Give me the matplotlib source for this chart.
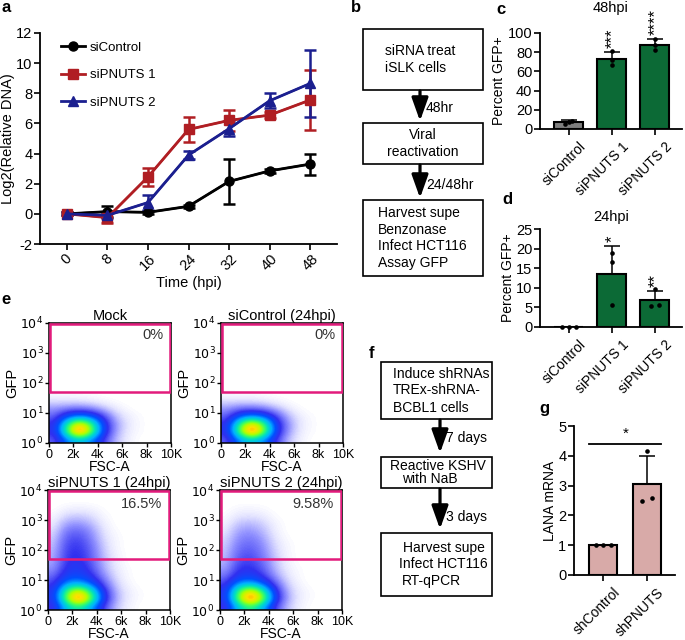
import matplotlib
matplotlib.use('Agg')
import matplotlib.pyplot as plt
import numpy as np
from matplotlib.colors import LinearSegmentedColormap
from matplotlib.patches import Rectangle
from matplotlib.transforms import ScaledTranslation

plt.rcParams['font.family'] = ['Liberation Sans', 'DejaVu Sans']
plt.rcParams['font.size'] = 9.5
plt.rcParams['axes.unicode_minus'] = False
plt.rcParams['axes.linewidth'] = 1.3
plt.rcParams['xtick.major.width'] = 1.2
plt.rcParams['ytick.major.width'] = 1.2
plt.rcParams['xtick.major.size'] = 4
plt.rcParams['ytick.major.size'] = 4

W, H = 685, 640

# ---- panel a: viral DNA over time
hpi = [0, 8, 16, 24, 32, 40, 48]
si_control = [0, 0.15, 0.1, 0.5, 2.15, 2.85, 3.3]
si_control_err = [0.1, 0.35, 0.1, 0.1, 1.5, 0.15, 0.7]
si_pnuts1 = [0, -0.25, 2.45, 5.6, 6.2, 6.55, 7.55]
si_pnuts1_err = [0.1, 0.35, 0.6, 0.85, 0.7, 0.2, 2.0]
si_pnuts2 = [0, -0.1, 0.75, 3.9, 5.65, 7.5, 8.65]
si_pnuts2_err = [0.1, 0.15, 0.5, 0.25, 0.5, 0.5, 2.2]

# ---- panels c, d: percent GFP+
si_groups = ['siControl', 'siPNUTS 1', 'siPNUTS 2']
c_mean = [7.0, 72.5, 88.0]
c_err = [2.3, 7.5, 6.0]
c_points = [[5.2, 7.0, 8.8], [66.9, 72.1, 80.8], [82.6, 87.4, 94.0]]
c_stars = ['', '***', '****']
d_mean = [0.05, 13.6, 6.85]
d_err = [0, 7.1, 2.45]
d_points = [[0.1, 0.1, 0.1], [5.7, 16.5, 19.0], [5.4, 5.6, 9.75]]
d_stars = ['', '*', '**']

# ---- panel g: LANA mRNA
sh_groups = ['shControl', 'shPNUTS']
g_mean = [1.0, 3.07]
g_err = [0, 0.92]
g_points = [[1.0, 1.0, 1.0], [2.5, 2.6, 4.15]]

# ---- panel e: flow density (rows = 0.25 decade GFP bins from 10^0, cols = 1k FSC-A bins)
mock_density = [
    [1.5, 3.5, 4.5, 3.5, 1.8, 0.6, 0.15, 0, 0, 0],
    [2.0, 6.0, 10.0, 6.5, 2.5, 0.8, 0.2, 0.05, 0, 0],
    [2.0, 5.5, 8.5, 6.0, 2.5, 0.9, 0.25, 0.05, 0, 0],
    [1.5, 3.0, 3.8, 3.2, 1.8, 0.6, 0.2, 0.05, 0, 0],
    [1.0, 1.3, 1.4, 1.2, 0.7, 0.25, 0.05, 0, 0, 0],
    [0.4, 0.35, 0.35, 0.25, 0.12, 0.03, 0, 0, 0, 0],
    [0.08, 0.05, 0.04, 0.02, 0, 0, 0, 0, 0, 0],
]
sicontrol_density = [
    [1.5, 3.6, 4.6, 3.6, 1.9, 0.6, 0.15, 0, 0, 0],
    [2.0, 6.2, 10.0, 6.8, 2.6, 0.9, 0.2, 0.05, 0, 0],
    [2.0, 5.6, 8.6, 6.2, 2.6, 1.0, 0.25, 0.05, 0, 0],
    [1.5, 3.1, 3.9, 3.3, 1.9, 0.7, 0.2, 0.05, 0, 0],
    [1.0, 1.4, 1.5, 1.3, 0.8, 0.3, 0.05, 0, 0, 0],
    [0.4, 0.4, 0.4, 0.3, 0.15, 0.03, 0, 0, 0, 0],
    [0.08, 0.06, 0.05, 0.03, 0, 0, 0, 0, 0, 0],
]
pnuts1_density = [
    [1.8, 4.5, 5.5, 4.0, 1.8, 0.6, 0.15, 0, 0, 0],
    [2.2, 6.5, 10.0, 6.5, 2.5, 0.8, 0.2, 0.05, 0, 0],
    [2.2, 6.0, 8.0, 5.5, 2.3, 0.7, 0.2, 0.05, 0, 0],
    [1.8, 3.8, 4.2, 3.2, 1.6, 0.5, 0.1, 0, 0, 0],
    [1.4, 2.6, 2.8, 2.2, 1.1, 0.35, 0.05, 0, 0, 0],
    [1.0, 2.2, 2.4, 1.8, 0.8, 0.25, 0.05, 0, 0, 0],
    [0.8, 2.0, 2.2, 1.6, 0.7, 0.2, 0, 0, 0, 0],
    [0.7, 1.9, 2.1, 1.5, 0.6, 0.15, 0, 0, 0, 0],
    [0.6, 1.8, 2.0, 1.4, 0.5, 0.1, 0, 0, 0, 0],
    [0.5, 1.6, 1.8, 1.2, 0.4, 0.1, 0, 0, 0, 0],
    [0.35, 1.3, 1.5, 1.0, 0.3, 0.05, 0, 0, 0, 0],
    [0.2, 0.9, 1.0, 0.7, 0.2, 0, 0, 0, 0, 0],
    [0.1, 0.45, 0.55, 0.4, 0.1, 0, 0, 0, 0, 0],
    [0, 0.15, 0.2, 0.15, 0.03, 0, 0, 0, 0, 0],
]
pnuts2_density = [
    [1.8, 4.5, 5.8, 4.2, 1.8, 0.6, 0.15, 0, 0, 0],
    [2.2, 6.5, 10.0, 7.0, 2.6, 0.8, 0.2, 0.05, 0, 0],
    [2.2, 6.0, 8.3, 5.8, 2.4, 0.7, 0.2, 0.05, 0, 0],
    [1.8, 3.7, 4.2, 3.2, 1.6, 0.5, 0.1, 0, 0, 0],
    [1.3, 2.4, 2.6, 2.0, 1.0, 0.3, 0.05, 0, 0, 0],
    [0.9, 2.0, 2.1, 1.6, 0.7, 0.2, 0.05, 0, 0, 0],
    [0.7, 1.7, 1.9, 1.4, 0.6, 0.15, 0, 0, 0, 0],
    [0.6, 1.5, 1.7, 1.2, 0.5, 0.1, 0, 0, 0, 0],
    [0.5, 1.3, 1.5, 1.1, 0.4, 0.1, 0, 0, 0, 0],
    [0.4, 1.1, 1.3, 0.9, 0.3, 0.05, 0, 0, 0, 0],
    [0.25, 0.9, 1.0, 0.7, 0.2, 0, 0, 0, 0, 0],
    [0.15, 0.6, 0.7, 0.5, 0.15, 0, 0, 0, 0, 0],
    [0.05, 0.3, 0.35, 0.25, 0.05, 0, 0, 0, 0, 0],
    [0, 0.1, 0.12, 0.08, 0, 0, 0, 0, 0, 0],
]
flow_titles = ['Mock', 'siControl (24hpi)', 'siPNUTS 1 (24hpi)', 'siPNUTS 2 (24hpi)']
flow_percent = ['0%', '0%', '16.5%', '9.58%']
flow_densities = [mock_density, sicontrol_density, pnuts1_density, pnuts2_density]
gate_low = 1.7
fsc_ticks = [0, 2000, 4000, 6000, 8000, 10000]
fsc_labels = ['0', '2k', '4k', '6k', '8k', '10K']

# ---- flowcharts b, f
b_steps = [['siRNA treat', 'iSLK cells'], ['Viral', 'reactivation'],
           ['Harvest supe', 'Benzonase', 'Infect HCT116', 'Assay GFP']]
b_arrows = ['48hr', '24/48hr']
f_steps = [['Induce shRNAs', 'TREx-shRNA-', 'BCBL1 cells'], ['Reactive KSHV', 'with NaB'],
           ['Harvest supe', 'Infect HCT116', 'RT-qPCR']]
f_arrows = ['7 days', '3 days']


def px_axes(fig, left, top, right, bottom):
    return fig.add_axes([left / W, 1 - bottom / H, (right - left) / W, (bottom - top) / H])


fig = plt.figure(figsize=(W / 100, H / 100), dpi=100)
over = fig.add_axes([0, 0, 1, 1])
over.set_xlim(0, W)
over.set_ylim(H, 0)
over.axis('off')

# panel letters
for letter, (x, y) in zip('abcdefg', [(1, 8), (351, 8), (496, 9), (502, 200), (1, 300), (369, 353), (539, 408)]):
    over.text(x, y, letter, fontsize=12, fontweight='bold', va='center', ha='left')

# ---------------- panel a
ax = px_axes(fig, 40, 33, 337, 244)
series = [(si_control, si_control_err, 'black', 'o', 'siControl'),
          (si_pnuts1, si_pnuts1_err, '#b01e23', 's', 'siPNUTS 1'),
          (si_pnuts2, si_pnuts2_err, '#1b1f8f', '^', 'siPNUTS 2')]
handles = []
for vals, errs, col, mk, lab in series:
    ax.errorbar(hpi, vals, yerr=errs, color=col, ecolor=col, elinewidth=1.8,
                capsize=4.3, capthick=1.8, zorder=2)
    h, = ax.plot(hpi, vals, color=col, lw=2, marker=mk, ms=6.5, label=lab, zorder=3)
    handles.append(h)
ax.set_xlim(-5.3, 53.3)
ax.set_ylim(-2, 12)
ax.set_yticks(np.arange(-2, 13, 2))
ax.set_xticks(hpi)
ax.set_xticklabels([str(h) for h in hpi], rotation=45, ha='center')
ax.tick_params(labelsize=10.5, pad=1.5)
ax.spines[['top', 'right']].set_visible(False)
ax.set_xlabel('Time (hpi)', fontsize=10.5, labelpad=2)
ax.set_ylabel('Log2(Relative DNA)', fontsize=10.5, labelpad=1)
ax.legend(handles=handles, loc='upper left', bbox_to_anchor=(0.05, 0.99), frameon=False,
          handlelength=1.8, handletextpad=0.35, labelspacing=1.15, borderpad=0, fontsize=9.5)


# ---------------- bar panels
def bar_panel(ax, groups, means, errs, points, colors, offsets, ymax, ystep, ylabel, width):
    x = np.arange(len(groups))
    ax.bar(x, means, width=width, color=colors, edgecolor='black', linewidth=1.5, zorder=1)
    for i in range(len(groups)):
        if errs[i] > 0:
            ax.errorbar(x[i], means[i], yerr=[[0], [errs[i]]], fmt='none', ecolor='black',
                        elinewidth=1.1, capsize=6, capthick=1.1, zorder=2)
        ax.scatter(x[i] + np.array(offsets[i]), points[i], s=11, color='black', zorder=3,
                   clip_on=False, linewidths=0)
    ax.set_ylim(0, ymax)
    ax.set_yticks(np.arange(0, ymax + 0.01, ystep))
    ax.set_xlim(-0.67, len(groups) - 1 + 0.63)
    ax.set_xticks(x)
    ax.set_xticklabels(groups, rotation=45, ha='right', rotation_mode='anchor', fontsize=10)
    for lab in ax.get_xticklabels():
        lab.set_transform(lab.get_transform() + ScaledTranslation(7 / 72, 0, fig.dpi_scale_trans))
    ax.spines[['top', 'right']].set_visible(False)
    ax.set_ylabel(ylabel, fontsize=10, labelpad=1)
    ax.tick_params(axis='y', labelsize=10.5, pad=1.5)
    return x


green = '#0c6a36'
ax = px_axes(fig, 540, 33, 682, 129)
x = bar_panel(ax, si_groups, c_mean, c_err, c_points, ['#7f7f7f', green, green],
              [[-0.08, 0.0, 0.08], [0, 0, 0], [0, 0, 0]], 100, 20, 'Percent GFP+', 0.67)
for i, s in enumerate(c_stars):
    if s:
        ax.text(x[i], c_mean[i] + c_err[i] + 4, s, rotation=90, ha='center', va='bottom',
                fontsize=12, clip_on=False)
ax.set_title('48hpi', fontsize=10.5, pad=15)

ax = px_axes(fig, 540, 229, 682, 327)
x = bar_panel(ax, si_groups, d_mean, d_err, d_points, ['#7f7f7f', green, green],
              [[-0.17, 0, 0.17], [0, 0, 0], [-0.1, 0.1, 0]], 25, 5, 'Percent GFP+', 0.67)
for i, s in enumerate(d_stars):
    if s:
        ax.text(x[i], d_mean[i] + d_err[i] + 1.0, s, rotation=90, ha='center', va='bottom',
                fontsize=12, clip_on=False)
ax.set_title('24hpi', fontsize=10.5, pad=6)

ax = px_axes(fig, 574, 426, 675, 575)
x = bar_panel(ax, sh_groups, g_mean, g_err, g_points, ['#d8aaa8', '#d8aaa8'],
              [[-0.18, 0, 0.18], [-0.12, 0.1, 0]], 5, 1, 'LANA mRNA', 0.64)
ax.plot([-0.32, 1.32], [4.4, 4.4], color='black', lw=1.3, clip_on=False)
ax.text(0.5, 4.5, '*', ha='center', va='bottom', fontsize=11)

# ---------------- panel e: flow plots
cmap = LinearSegmentedColormap.from_list('flow', [
    (0.0, 'white'), (0.03, '#e4e4ff'), (0.1, '#9090ff'), (0.2, '#3030f0'),
    (0.3, '#0050ff'), (0.4, '#00b0ff'), (0.5, '#00e0c0'), (0.6, '#40ff60'),
    (0.7, '#b0ff00'), (0.8, '#ffe000'), (0.9, '#ff7000'), (1.0, '#ff0000')])
cmap.set_under('white')
pink = '#e21b7c'
flow_boxes = [(49, 323, 171, 443), (221, 323, 343, 443), (48, 490, 170, 610), (220, 490, 342, 610)]
for k, (l, t, r, b) in enumerate(flow_boxes):
    ax = px_axes(fig, l, t, r, b)
    dens = np.zeros((16, 10))
    rows = np.array(flow_densities[k], dtype=float)
    dens[:rows.shape[0]] = rows
    ax.imshow(dens, origin='lower', extent=[0, 10000, 0, 4], aspect='auto', cmap=cmap,
              vmin=0.001, vmax=10, interpolation='bicubic')
    ax.add_patch(Rectangle((70, gate_low), 9840, 3.97 - gate_low, fill=False,
                           edgecolor=pink, lw=1.8, zorder=3))
    ax.set_xlim(0, 10000)
    ax.set_ylim(0, 4)
    ax.set_xticks(fsc_ticks)
    ax.set_xticklabels(fsc_labels, fontsize=9)
    ax.set_yticks(range(5))
    ax.set_yticklabels(['$10^{%d}$' % n for n in range(5)], fontsize=9)
    ax.tick_params(length=3, width=1, pad=1)
    for sp in ax.spines.values():
        sp.set_linewidth(1.1)
    ax.set_xlabel('FSC-A', fontsize=10, labelpad=-0.5)
    ax.set_ylabel('GFP', fontsize=10.5, labelpad=0.5)
    ax.set_title(flow_titles[k], fontsize=10.5, pad=1.5)
    ax.text(0.935, 0.9 if k < 2 else 0.885, flow_percent[k], transform=ax.transAxes,
            ha='right', va='center', fontsize=10.5, color='#333333', zorder=4)


# ---------------- flowcharts
def flowchart(steps, arrows, box_x, boxes, line_gap, line_x, arrow_x, arrow_spans, arrow_label_y):
    for i, lines in enumerate(steps):
        top, bot = boxes[i]
        over.add_patch(Rectangle((box_x[0], top), box_x[1] - box_x[0], bot - top, fill=False,
                                 edgecolor='black', lw=1.2))
        gap = line_gap[i]
        mid = (top + bot) / 2
        for j, txt in enumerate(lines):
            y = mid + (j - (len(lines) - 1) / 2) * gap
            lx = line_x[i][j]
            if lx is None:
                over.text((box_x[0] + box_x[1]) / 2, y, txt, ha='center', va='center', fontsize=10)
            else:
                over.text(lx, y, txt, ha='left', va='center', fontsize=10)
    for i, lab in enumerate(arrows):
        y0, y1 = arrow_spans[i]
        over.annotate('', xy=(arrow_x, y1), xytext=(arrow_x, y0),
                      arrowprops=dict(arrowstyle='-|>,head_length=1.4,head_width=0.5',
                                      lw=2.3, color='black', shrinkA=0, shrinkB=0,
                                      mutation_scale=10))
        over.text(arrow_x + 6, arrow_label_y[i], lab, ha='left', va='center', fontsize=10)


flowchart(b_steps, b_arrows, (363, 483), [(29, 90), (123, 164), (200, 276)], [16.5, 17, 16.7],
          [[385, 385], [None, None], [378, 378, 378, 378]], 420, [(91, 121), (165, 198)], [108, 185])
flowchart(f_steps, f_arrows, (381, 492), [(362, 419), (457, 488), (533, 596)], [17, 12.5, 16.5],
          [[393, 393, 393], [390, 402], [403, 399, 402]], 440, [(420, 453), (489, 529)], [438, 517])

fig.savefig('out.png', dpi=100)
